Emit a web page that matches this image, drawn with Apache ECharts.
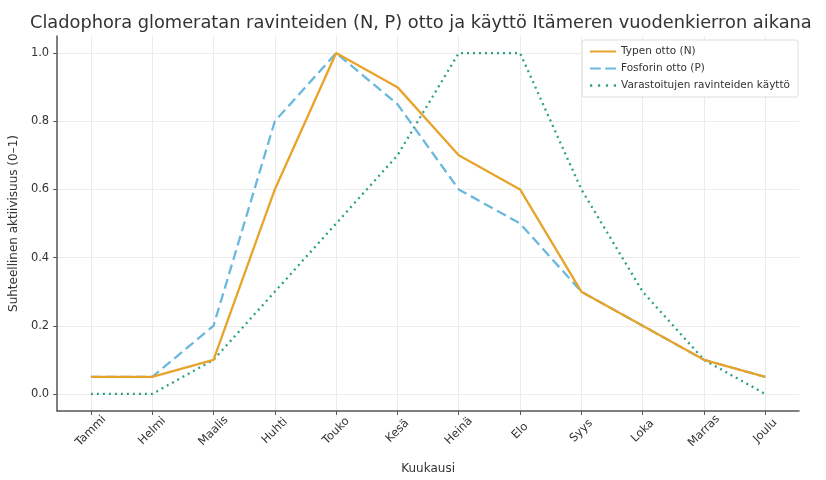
<!DOCTYPE html>
<html>
<head>
<meta charset="utf-8">
<script src="https://cdn.jsdelivr.net/npm/echarts@6/dist/echarts.min.js"></script>
<style>
  html, body { margin: 0; padding: 0; background: #fff; }
  #chart { width: 826px; height: 480px; }
</style>
</head>
<body>
<div id="chart"></div>
<script>
const months = ["Tammi", "Helmi", "Maalis", "Huhti", "Touko", "Kesä", "Heinä", "Elo", "Syys", "Loka", "Marras", "Joulu"];
const nitrogen = [0.05, 0.05, 0.1, 0.6, 1.0, 0.9, 0.7, 0.6, 0.3, 0.2, 0.1, 0.05];
const phosphorus = [0.05, 0.05, 0.2, 0.8, 1.0, 0.85, 0.6, 0.5, 0.3, 0.2, 0.1, 0.05];
const storage = [0, 0, 0.1, 0.3, 0.5, 0.7, 1.0, 1.0, 0.6, 0.3, 0.1, 0];
const yTicks = [0, 0.2, 0.4, 0.6, 0.8, 1.0];

const font = "DejaVu Sans";
const xTicks = months.map((_, i) => i);
const toPairs = (arr) => arr.map((v, i) => [i, v]);

const chart = echarts.init(document.getElementById("chart"));

chart.setOption({
  animation: false,
  textStyle: { fontFamily: font },
  title: {
    text: "Cladophora glomeratan ravinteiden (N, P) otto ja käyttö Itämeren vuodenkierron aikana",
    left: 25,
    top: 9,
    textStyle: { fontFamily: font, fontSize: 17.8, fontWeight: "normal", color: "#333" }
  },
  legend: {
    top: 40,
    right: 28,
    orient: "vertical",
    backgroundColor: "#fff",
    borderColor: "#ddd",
    borderWidth: 1,
    borderRadius: 2,
    padding: [6, 8],
    itemGap: 6,
    itemWidth: 26,
    itemHeight: 8,
    textStyle: { fontFamily: font, fontSize: 10.5, color: "#333" },
    data: [
      { name: "Typen otto (N)", icon: "path://M0,4 L26,4 L26,6 L0,6 Z" },
      { name: "Fosforin otto (P)", icon: "path://M0,4 L10,4 L10,6 L0,6 Z M14,4 L24,4 L24,6 L14,6 Z" },
      { name: "Varastoitujen ravinteiden käyttö", icon: "path://M1,4 L3,4 L3,6 L1,6 Z M8,4 L10,4 L10,6 L8,6 Z M15,4 L17,4 L17,6 L15,6 Z M22,4 L24,4 L24,6 L22,6 Z" }
    ]
  },
  grid: { left: 52, right: 27, top: 36, bottom: 65 },
  xAxis: {
    type: "value",
    min: -0.55,
    max: 11.55,
    name: "Kuukausi",
    nameLocation: "middle",
    nameGap: 52,
    nameTextStyle: { fontFamily: font, fontSize: 12, color: "#333" },
    axisLine: { show: true, onZero: false, lineStyle: { color: "#555", width: 1.5 } },
    axisTick: { show: true, customValues: xTicks, length: 4, lineStyle: { color: "#555" } },
    axisLabel: {
      customValues: xTicks,
      rotate: 45,
      align: "center",
      verticalAlign: "middle",
      margin: 20,
      fontFamily: font,
      fontSize: 11.5,
      color: "#333",
      formatter: (v) => months[Math.round(v)]
    },
    splitLine: { show: true, lineStyle: { color: "#ececec", width: 1 } }
  },
  yAxis: {
    type: "value",
    min: -0.05,
    max: 1.05,
    name: "Suhteellinen aktiivisuus (0–1)",
    nameLocation: "middle",
    nameGap: 31,
    nameTextStyle: { fontFamily: font, fontSize: 12, color: "#333" },
    axisLine: { show: true, onZero: false, lineStyle: { color: "#555", width: 1.5 } },
    axisTick: { show: true, customValues: yTicks, length: 4, lineStyle: { color: "#555" } },
    axisLabel: {
      customValues: yTicks,
      fontFamily: font,
      fontSize: 11.5,
      color: "#333",
      formatter: (v) => v.toFixed(1)
    },
    splitLine: { show: true, lineStyle: { color: "#ececec", width: 1 } }
  },
  series: [
    {
      name: "Typen otto (N)",
      type: "line",
      data: toPairs(nitrogen),
      symbol: "none",
      itemStyle: { color: "#e8a42a" },
      lineStyle: { color: "#e8a42a", width: 2.3 },
      z: 3
    },
    {
      name: "Fosforin otto (P)",
      type: "line",
      data: toPairs(phosphorus),
      symbol: "none",
      itemStyle: { color: "#6bb8de" },
      lineStyle: { color: "#6bb8de", width: 2.3, type: [10, 5] },
      z: 2
    },
    {
      name: "Varastoitujen ravinteiden käyttö",
      type: "line",
      data: toPairs(storage),
      symbol: "none",
      itemStyle: { color: "#2fa088" },
      lineStyle: { color: "#2fa088", width: 2.3, type: [2, 4] },
      z: 1
    }
  ]
});
</script>
</body>
</html>
